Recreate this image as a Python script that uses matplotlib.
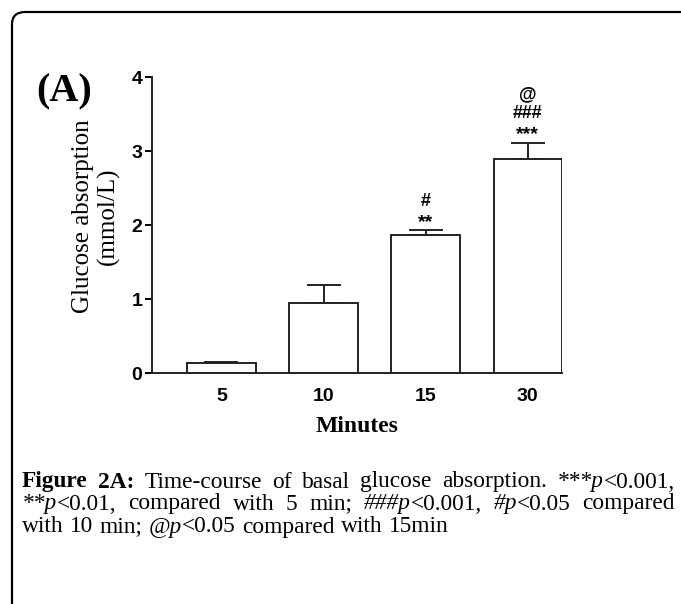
import numpy as np
import matplotlib
matplotlib.use('Agg')
from matplotlib import pyplot as plt
from matplotlib.patches import FancyBboxPatch

# data
minutes = ['5', '10', '15', '30']
glucose = [0.14, 0.95, 1.87, 2.89]
sem = [0.01, 0.24, 0.06, 0.22]
marks = [[], [], ['**', '#'], ['***', '###', '@']]

W, H = 681, 604
fig = plt.figure(figsize=(W / 100, H / 100), dpi=100)
fig.patch.set_facecolor('white')

# rounded frame
frame = FancyBboxPatch((12 / W, -0.2), 1.2, 1 - 12 / H + 0.2,
                       boxstyle='round,pad=0,rounding_size=0.02',
                       transform=fig.transFigure, facecolor='none',
                       edgecolor='black', linewidth=1.6, zorder=0)
fig.patches.append(frame)

ax = fig.add_axes([152 / W, 1 - 373 / H, 410 / W, 296 / H])
x = np.arange(len(minutes))
ax.errorbar(x, glucose, yerr=[np.zeros(len(x)), sem], fmt='none', ecolor='#222222',
            elinewidth=1.4, capsize=12, capthick=1.4, zorder=1)
ax.bar(x, glucose, width=0.67, color='white', edgecolor='#222222', linewidth=1.4, zorder=2)

ax.set_xlim(-0.68, 3.335)
ax.set_ylim(0, 4)
ax.set_yticks([0, 1, 2, 3, 4])
ax.set_xticks(x)
ax.set_xticklabels(minutes)
for s in ['top', 'right']:
    ax.spines[s].set_visible(False)
for s in ['left', 'bottom']:
    ax.spines[s].set_linewidth(1.4)
    ax.spines[s].set_color('#222222')
ax.tick_params(axis='y', length=5, width=1.4, pad=2, labelsize=14)
ax.tick_params(axis='x', length=0, pad=11, labelsize=14)
for lb in ax.get_xticklabels() + ax.get_yticklabels():
    lb.set_fontweight('bold')
    lb.set_family('Liberation Sans')

ax.set_xlabel('Minutes', family='Liberation Serif', fontweight='bold', fontsize=17, labelpad=8)
fig.text(96 / W, 1 - 216 / H, 'Glucose absorption\n(mmol/L)', family='Liberation Serif',
         fontsize=18, rotation=90, ha='center', va='center', multialignment='center',
         linespacing=1.2)

for i in range(len(x)):
    top = glucose[i] + sem[i]
    for k, m in enumerate(marks[i]):
        if '*' in m:
            size, off = 14, 8 + 19 * k
        else:
            size, off = 13, 10 + 19 * k
        ax.annotate(m, (x[i], top), xytext=(0, off * 0.72), textcoords='offset points',
                    ha='center', va='center', fontsize=size, fontweight='bold',
                    family='Liberation Sans')

fig.text(36 / W, 1 - 92 / H, '(A)', family='Liberation Serif', fontweight='bold',
         fontsize=29, ha='left', va='center')

# caption, justified word by word
styles = {'b': dict(family='Liberation Serif', fontweight='bold'),
          'r': dict(family='Liberation Serif'),
          'i': dict(family='Liberation Serif', style='italic')}
cap_size = 16.8
line1 = [[('Figure', 'b')], [('2A:', 'b')], 'Time-course', 'of', 'basal', 'glucose',
         'absorption.', [('***p', 'i'), ('<0.001,', 'r')]]
line2 = [[('**p', 'i'), ('<0.01,', 'r')], 'compared', 'with', '5', 'min;',
         [('###p', 'i'), ('<0.001,', 'r')], [('#p', 'i'), ('<0.05', 'r')], 'compared']
line3 = ['with', '10', 'min;', [('@p', 'i'), ('<0.05', 'r')], 'compared', 'with', '15min']

renderer = fig.canvas.get_renderer()


def draw_line(words, ypix, x0, x1, justify):
    placed = []
    total = 0
    for w in words:
        if isinstance(w, str):
            w = [(w, 'r')]
        runs = []
        ww = 0
        for txt, st in w:
            t = fig.text(0, 1 - ypix / H, txt, fontsize=cap_size, va='center', ha='left', **styles[st])
            bw = t.get_window_extent(renderer).width
            runs.append((t, ww))
            ww += bw
        placed.append((runs, ww))
        total += ww
    if justify:
        gap = (x1 - x0 - total) / (len(words) - 1)
    else:
        gap = cap_size * 0.27 / 0.72
    cx = x0
    for runs, ww in placed:
        for t, off in runs:
            t.set_x((cx + off) / W)
        cx += ww + gap


draw_line(line1, 482, 22, 675, True)
draw_line(line2, 504, 22, 675, True)
draw_line(line3, 527, 22, 675, False)

fig.savefig('out.png', dpi=100)
